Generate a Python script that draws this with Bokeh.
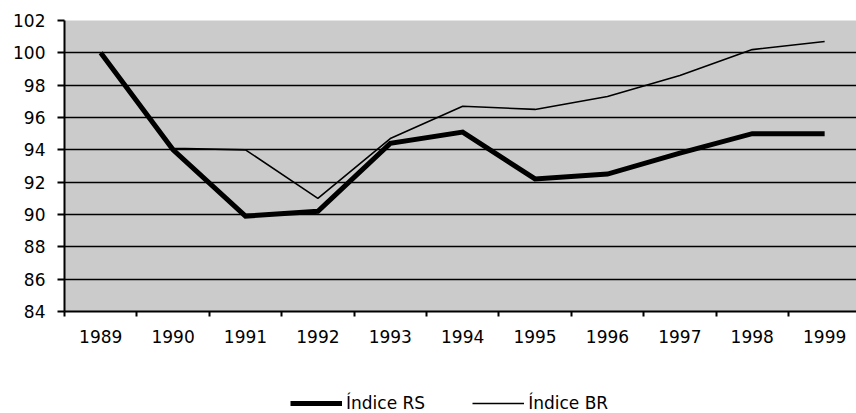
from bokeh.plotting import figure
from bokeh.layouts import column
from bokeh.models import FixedTicker, Range1d, Legend, LegendItem
from bokeh.embed import file_html
from bokeh.resources import INLINE

years = [1989, 1990, 1991, 1992, 1993, 1994, 1995, 1996, 1997, 1998, 1999]
indice_rs = [100.0, 94.0, 89.9, 90.2, 94.4, 95.1, 92.2, 92.5, 93.8, 95.0, 95.0]
indice_br = [100.0, 94.1, 94.0, 91.0, 94.7, 96.7, 96.5, 97.3, 98.6, 100.2, 100.7]
y_ticks = [84, 86, 88, 90, 92, 94, 96, 98, 100, 102]
series_names = ["\u00cdndice RS", "\u00cdndice BR"]

FONT = "DejaVu Sans"
W = 856

p = figure(width=W, height=380, output_backend="svg", toolbar_location=None,
           x_range=Range1d(years[0] - 0.5, years[0] - 0.5 + 10.94),
           y_range=Range1d(84, 102),
           min_border_left=64, min_border_right=0, min_border_top=20, min_border_bottom=69)

p.background_fill_color = "#cbcbcb"
p.border_fill_color = "white"
p.outline_line_color = None

p.line(years, indice_rs, line_color="black", line_width=5, line_join="miter")
p.line(years, indice_br, line_color="black", line_width=1.6)

# axes
p.xaxis.ticker = FixedTicker(ticks=years, minor_ticks=[y - 0.5 for y in years] + [years[-1] + 0.5])
p.xaxis.major_tick_out = 0
p.xaxis.major_tick_in = 0
p.xaxis.minor_tick_out = 5
p.xaxis.minor_tick_in = 0
p.xaxis.minor_tick_line_color = "black"
p.xaxis.minor_tick_line_width = 2
p.xaxis.axis_line_color = "black"
p.xaxis.axis_line_width = 2
p.xaxis.major_label_text_font = FONT
p.xaxis.major_label_text_font_size = "17px"
p.xaxis.major_label_text_color = "black"
p.xaxis.major_label_standoff = 13

p.yaxis.ticker = FixedTicker(ticks=y_ticks)
p.yaxis.major_tick_out = 7
p.yaxis.major_tick_in = 0
p.yaxis.major_tick_line_color = "black"
p.yaxis.major_tick_line_width = 2
p.yaxis.minor_tick_line_color = None
p.yaxis.axis_line_color = "black"
p.yaxis.axis_line_width = 2
p.yaxis.major_label_text_font = FONT
p.yaxis.major_label_text_font_size = "17px"
p.yaxis.major_label_text_color = "black"
p.yaxis.major_label_standoff = 12

p.xgrid.grid_line_color = None
p.ygrid.ticker = FixedTicker(ticks=y_ticks)
p.ygrid.grid_line_color = "black"
p.ygrid.grid_line_width = 1.6
p.ygrid.grid_line_alpha = 1.0

# legend strip below the chart (its frame is aligned with the chart's frame)
lg = figure(width=W, height=33, output_backend="svg", toolbar_location=None,
            x_axis_type=None, y_axis_type=None,
            x_range=Range1d(0, 1), y_range=Range1d(0, 1),
            min_border_left=64, min_border_right=0, min_border_top=0, min_border_bottom=0)
lg.outline_line_color = None
lg.xgrid.grid_line_color = None
lg.ygrid.grid_line_color = None
# single-point stand-ins (draw nothing) that only carry the legend line styles
l_rs = lg.line(x=[0], y=[0], line_color="black", line_width=5)
l_br = lg.line(x=[0], y=[0], line_color="black", line_width=1.6)

legend = Legend(items=[LegendItem(label=series_names[0], renderers=[l_rs]),
                       LegendItem(label=series_names[1], renderers=[l_br])],
                orientation="horizontal", location=(226, 0),
                padding=0, margin=0, spacing=47, label_standoff=4,
                glyph_width=52, glyph_height=18, label_height=18,
                label_text_font=FONT, label_text_font_size="17px",
                label_text_color="black",
                background_fill_alpha=0, border_line_color=None)
lg.add_layout(legend, "center")

layout = column(p, lg, spacing=0)
open("out.html", "w").write(file_html(layout, INLINE))
